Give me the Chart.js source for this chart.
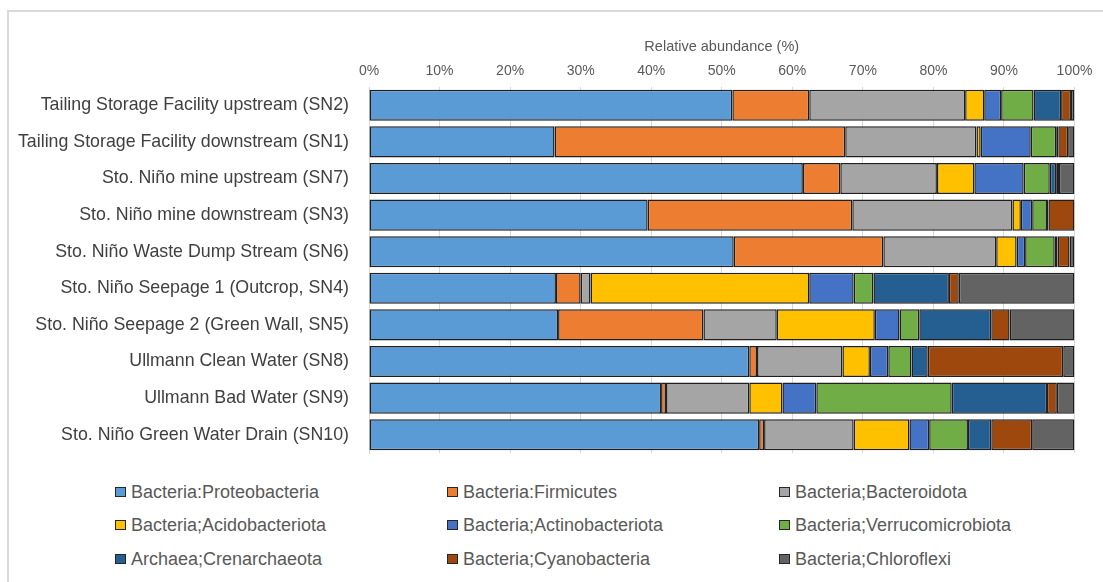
<!DOCTYPE html>
<html>
<head>
<meta charset="utf-8">
<script src="https://cdn.jsdelivr.net/npm/chart.js@4.4.1/dist/chart.umd.min.js"></script>
<style>
  html, body { margin: 0; padding: 0; background: #fff; overflow: hidden; }
  #wrap { position: relative; width: 1103px; height: 582px; }
  #frame { position: absolute; left: 7px; top: 10px; width: 1200px; height: 700px;
           border-top: 2px solid #d9d9d9; border-left: 2px solid #d9d9d9; box-sizing: border-box; }
  #chart { position: absolute; left: 0; top: 0; }
  .lg { position: absolute; font-family: "Liberation Sans", Arial, sans-serif; font-size: 18px;
        color: #595959; white-space: nowrap; line-height: 20px; }
  .lg .box { position: absolute; left: 0; top: 5px; width: 11px; height: 10px;
             border: 1px solid #262626; box-sizing: border-box; }
  .lg .txt { position: absolute; left: 16px; top: 0; }
</style>
</head>
<body>
<div id="wrap">
  <div id="frame"></div>
  <canvas id="chart" width="1103" height="470"></canvas>
  <div id="legend"></div>
</div>
<script>
// Sampling sites (top to bottom)
const sites = [
  "Tailing Storage Facility upstream (SN2)",
  "Tailing Storage Facility downstream (SN1)",
  "Sto. Niño mine upstream (SN7)",
  "Sto. Niño mine downstream (SN3)",
  "Sto. Niño Waste Dump Stream (SN6)",
  "Sto. Niño Seepage 1 (Outcrop, SN4)",
  "Sto. Niño Seepage 2 (Green Wall, SN5)",
  "Ullmann Clean Water (SN8)",
  "Ullmann Bad Water (SN9)",
  "Sto. Niño Green Water Drain (SN10)"
];

// Relative abundance (%) per phylum, one value per site in the order above
const proteobacteria    = [51.5, 26.3, 61.5, 39.5, 51.7, 26.5, 26.8, 53.9, 41.4, 55.3];
const firmicutes        = [10.9, 41.2,  5.3, 29.0, 21.2,  3.5, 20.6,  1.1,  0.7,  0.7];
const bacteroidota      = [22.1, 18.6, 13.7, 22.7, 16.0,  1.4, 10.4, 12.1, 11.8, 12.7];
const acidobacteriota   = [ 2.7,  0.6,  5.3,  1.2,  2.9, 31.0, 13.9,  3.9,  4.7,  7.9];
const actinobacteriota  = [ 2.4,  7.1,  7.0,  1.6,  1.2,  6.3,  3.5,  2.6,  4.8,  2.8];
const verrucomicrobiota = [ 4.6,  3.6,  3.7,  2.1,  4.2,  2.8,  2.8,  3.3, 19.2,  5.5];
const crenarchaeota     = [ 3.9,  0.3,  0.9,  0.2,  0.4, 10.7, 10.2,  2.3, 13.5,  3.3];
const cyanobacteria     = [ 1.4,  1.4,  0.4,  3.7,  1.7,  1.4,  2.6, 19.2,  1.4,  5.8];
const chloroflexi       = [ 0.5,  0.9,  2.2,  0.0,  0.7, 16.4,  9.2,  1.6,  2.5,  6.0];

const seriesNames = [
  "Bacteria:Proteobacteria", "Bacteria:Firmicutes", "Bacteria;Bacteroidota",
  "Bacteria;Acidobacteriota", "Bacteria;Actinobacteriota", "Bacteria;Verrucomicrobiota",
  "Archaea;Crenarchaeota", "Bacteria;Cyanobacteria", "Bacteria;Chloroflexi"
];
const seriesValues = [
  proteobacteria, firmicutes, bacteroidota, acidobacteriota, actinobacteriota,
  verrucomicrobiota, crenarchaeota, cyanobacteria, chloroflexi
];
const seriesColors = [
  "#5B9BD5", "#ED7D31", "#A5A5A5", "#FFC000", "#4472C4",
  "#70AD47", "#255E91", "#9E480E", "#636363"
];
const xTicks = [0, 10, 20, 30, 40, 50, 60, 70, 80, 90, 100];

const datasets = seriesNames.map((name, i) => ({
  label: name,
  data: seriesValues[i],
  backgroundColor: seriesColors[i],
  borderColor: "#1f1f1f",
  borderWidth: 1.5,
  borderSkipped: false,
  barPercentage: 0.85,
  categoryPercentage: 1.0
}));

const textGray = "#595959";
const fontFam = "'Liberation Sans', Arial, sans-serif";

new Chart(document.getElementById("chart"), {
  type: "bar",
  data: { labels: sites, datasets },
  options: {
    indexAxis: "y",
    responsive: false,
    animation: false,
    layout: { autoPadding: false, padding: { left: 0, right: 28.5, top: 0, bottom: 17 } },
    plugins: { legend: { display: false }, tooltip: { enabled: false } },
    scales: {
      x: {
        position: "top",
        stacked: true,
        min: 0,
        max: 100,
        afterBuildTicks: (s) => { s.ticks = xTicks.map(v => ({ value: v })); },
        afterFit: (s) => { s.height = 87; },
        grid: { color: "#d9d9d9", lineWidth: 1, drawTicks: false },
        border: { display: false },
        ticks: {
          padding: 7,
          color: textGray,
          font: { family: fontFam, size: 14 },
          callback: (v) => v + "%"
        },
        title: {
          display: true,
          text: "Relative abundance (%)",
          color: textGray,
          font: { family: fontFam, size: 14.5 },
          padding: { top: 38, bottom: 0 }
        }
      },
      y: {
        stacked: true,
        afterFit: (s) => { s.width = 369; s.paddingTop = 0; s.paddingBottom = 0; },
        grid: { display: false, drawTicks: false },
        border: { display: true, color: "#d9d9d9", width: 1 },
        ticks: {
          padding: 20,
          color: "#404040",
          font: { family: fontFam, size: 17.8 }
        }
      }
    }
  }
});

// Legend laid out in a three-column grid below the chart
const legendCols = [115, 447, 779];
const legendRows = [482, 515, 549];
const legend = document.getElementById("legend");
seriesNames.forEach((name, i) => {
  const item = document.createElement("div");
  item.className = "lg";
  item.style.left = legendCols[i % 3] + "px";
  item.style.top = legendRows[Math.floor(i / 3)] + "px";
  const box = document.createElement("span");
  box.className = "box";
  box.style.background = seriesColors[i];
  const txt = document.createElement("span");
  txt.className = "txt";
  txt.textContent = name;
  item.appendChild(box);
  item.appendChild(txt);
  legend.appendChild(item);
});
</script>
</body>
</html>
